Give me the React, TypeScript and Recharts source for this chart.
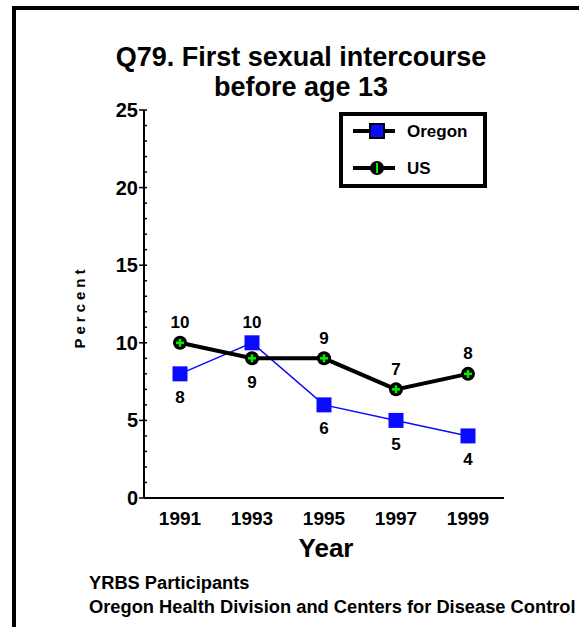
import React from 'react';
import { LineChart, Line, XAxis, YAxis, LabelList } from 'recharts';

const years = ['1991', '1993', '1995', '1997', '1999'];
const oregon = [8, 10, 6, 5, 4];
const us = [10, 9, 9, 7, 8];
const yTicks = [0, 1, 2, 3, 4, 5, 6, 7, 8, 9, 10, 11, 12, 13, 14, 15, 16, 17, 18, 19, 20, 21, 22, 23, 24, 25];
const titleLines = ['Q79. First sexual intercourse', 'before age 13'];
const footerLines = ['YRBS Participants', 'Oregon Health Division and Centers for Disease Control'];

const data = years.map((year, i) => ({ year, oregon: oregon[i], us: us[i] }));

const FONT = "'Liberation Sans', Arial, Helvetica, sans-serif";
const BLUE = '#0a0aff';
const GREEN = '#00ee00';

const YTick = (props: any) => {
  const { x, y, payload } = props;
  const v = payload.value;
  const major = v % 5 === 0;
  return (
    <g>
      {major ? (
        <>
          <line x1={x - 5} x2={x + 3} y1={y} y2={y} stroke="#000" strokeWidth={1.5} />
          <text x={x - 6} y={y} textAnchor="end" dominantBaseline="central" fontFamily={FONT} fontWeight="bold" fontSize={20} fill="#000">
            {v}
          </text>
        </>
      ) : (
        <line x1={x} x2={x + 3} y1={y} y2={y} stroke="#000" strokeWidth={1.5} />
      )}
    </g>
  );
};

const XTick = (props: any) => {
  const { x, y, payload } = props;
  return (
    <text x={x} y={y + 20} textAnchor="middle" dominantBaseline="central" fontFamily={FONT} fontWeight="bold" fontSize={19} fill="#000">
      {payload.value}
    </text>
  );
};

const OregonDot = (props: any) => {
  const { cx, cy } = props;
  if (cx == null || cy == null) return null;
  return <rect x={cx - 7.5} y={cy - 7.5} width={15} height={15} fill={BLUE} />;
};

const USDot = (props: any) => {
  const { cx, cy } = props;
  if (cx == null || cy == null) return null;
  return (
    <g>
      <circle cx={cx} cy={cy} r={7} fill="#000" />
      <line x1={cx - 4} x2={cx + 4} y1={cy} y2={cy} stroke={GREEN} strokeWidth={2.5} />
      <line x1={cx} x2={cx} y1={cy - 4} y2={cy + 4} stroke={GREEN} strokeWidth={2.5} />
    </g>
  );
};

const makeLabel = (self: number[], other: number[]) => (props: any) => {
  const { x, y, value, index } = props;
  const above = self[index] >= other[index];
  return (
    <text
      x={x}
      y={above ? y - 20 : y + 24}
      textAnchor="middle"
      dominantBaseline="central"
      fontFamily={FONT}
      fontWeight="bold"
      fontSize={17}
      fill="#000"
    >
      {value}
    </text>
  );
};

export default function App() {
  return (
    <div
      style={{
        position: 'absolute',
        left: 0,
        top: 0,
        width: 579,
        height: 627,
        overflow: 'hidden',
        background: '#fff',
        fontFamily: FONT,
      }}
    >
      <div style={{ position: 'absolute', left: 12, top: 6, width: 4, height: 621, background: '#000' }} />
      <div style={{ position: 'absolute', left: 12, top: 6, width: 567, height: 4, background: '#000' }} />
      {titleLines.map((t, i) => (
        <div
          key={t}
          style={{
            position: 'absolute',
            left: 51,
            width: 500,
            top: 42 + i * 30,
            height: 30,
            lineHeight: '30px',
            textAlign: 'center',
            fontWeight: 'bold',
            fontSize: 27,
            color: '#000',
            whiteSpace: 'nowrap',
          }}
        >
          {t}
        </div>
      ))}
      <div style={{ position: 'absolute', left: 0, top: 0 }}>
        <LineChart width={579} height={627} data={data} margin={{ top: 110, right: 75, bottom: 99, left: 84 }}>
          <XAxis
            dataKey="year"
            xAxisId={0}
            padding={{ left: 36, right: 36 }}
            axisLine={{ stroke: '#000', strokeWidth: 2 }}
            tickLine={false}
            tickSize={0}
            tickMargin={0}
            tick={<XTick />}
            height={30}
            interval={0}
          />
          <XAxis
            dataKey="year"
            xAxisId="top"
            orientation="top"
            padding={{ left: 36, right: 36 }}
            axisLine={{ stroke: '#000', strokeWidth: 2 }}
            tickLine={false}
            tick={false}
            height={0}
          />
          <YAxis
            yAxisId={0}
            domain={[0, 25]}
            ticks={yTicks}
            interval={0}
            width={60}
            axisLine={{ stroke: '#000', strokeWidth: 2 }}
            tickLine={false}
            tickSize={0}
            tickMargin={0}
            tick={<YTick />}
          />
          <YAxis
            yAxisId="right"
            orientation="right"
            domain={[0, 25]}
            width={0}
            axisLine={{ stroke: '#000', strokeWidth: 2 }}
            tickLine={false}
            tick={false}
          />
          <Line
            dataKey="oregon"
            stroke={BLUE}
            strokeWidth={1.5}
            dot={<OregonDot />}
            activeDot={false}
            isAnimationActive={false}
          >
            <LabelList dataKey="oregon" content={makeLabel(oregon, us)} />
          </Line>
          <Line
            dataKey="us"
            stroke="#000"
            strokeWidth={4}
            dot={<USDot />}
            activeDot={false}
            isAnimationActive={false}
          >
            <LabelList dataKey="us" content={makeLabel(us, oregon)} />
          </Line>
        </LineChart>
      </div>
      <div
        style={{
          position: 'absolute',
          left: 80 - 55,
          top: 307 - 10,
          width: 110,
          height: 20,
          lineHeight: '20px',
          textAlign: 'center',
          transform: 'rotate(-90deg)',
          fontWeight: 'bold',
          fontSize: 15,
          letterSpacing: '4px',
          color: '#000',
        }}
      >
        Percent
      </div>
      <div
        style={{
          position: 'absolute',
          left: 226,
          width: 200,
          top: 533,
          height: 30,
          lineHeight: '30px',
          textAlign: 'center',
          fontWeight: 'bold',
          fontSize: 26,
          color: '#000',
        }}
      >
        Year
      </div>
      <svg style={{ position: 'absolute', left: 339, top: 112 }} width={148} height={76}>
        <rect x={2} y={2} width={144} height={72} fill="#fff" stroke="#000" strokeWidth={4} />
        <line x1={14} x2={56} y1={19} y2={19} stroke="#000" strokeWidth={4} />
        <rect x={31} y={12} width={14} height={14} fill={BLUE} stroke="#000" strokeWidth={2} />
        <text x={68} y={19} dominantBaseline="central" fontFamily={FONT} fontWeight="bold" fontSize={17} fill="#000">
          Oregon
        </text>
        <line x1={14} x2={56} y1={56} y2={56} stroke="#000" strokeWidth={4} />
        <circle cx={38} cy={56} r={7} fill="#000" />
        <line x1={38} x2={38} y1={51} y2={61} stroke={GREEN} strokeWidth={2} />
        <text x={68} y={56} dominantBaseline="central" fontFamily={FONT} fontWeight="bold" fontSize={17} fill="#000">
          US
        </text>
      </svg>
      {footerLines.map((t, i) => (
        <div
          key={t}
          style={{
            position: 'absolute',
            left: 89,
            top: 572 + i * 24,
            height: 22,
            lineHeight: '22px',
            fontWeight: 'bold',
            fontSize: 18.3,
            color: '#000',
            whiteSpace: 'nowrap',
          }}
        >
          {t}
        </div>
      ))}
    </div>
  );
}
